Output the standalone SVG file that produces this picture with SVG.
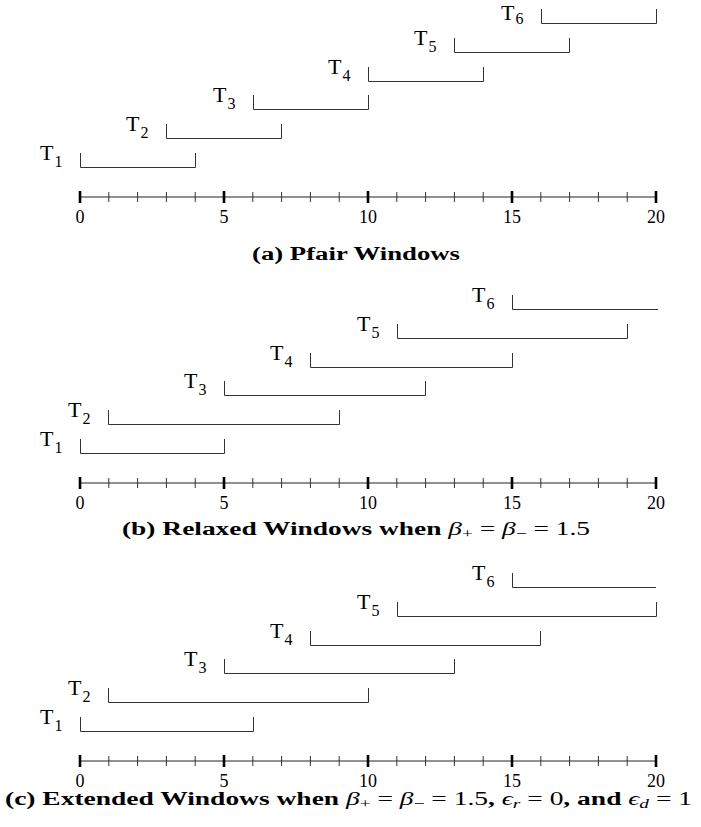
<svg xmlns="http://www.w3.org/2000/svg" width="701" height="827" viewBox="0 0 701 827">
  <style>
    .win { fill: none; stroke: #333; stroke-width: 1; }
    .axis { stroke: #222; stroke-width: 1; }
    .major { stroke: #000; stroke-width: 2.6; }
    .minor { stroke: #333; stroke-width: 1; }
    .lbl { font-family: "Liberation Serif", "Times New Roman", serif; font-size: 22px; fill: #000; }
    .sub { font-size: 16px; }
    .num { font-family: "Liberation Serif", "Times New Roman", serif; font-size: 18px; fill: #000; text-anchor: middle; }
    .cap { font-family: "Liberation Serif", "Times New Roman", serif; font-size: 18.5px; font-weight: bold; fill: #000; }
    .m { font-weight: normal; }
    .mi { font-weight: normal; font-style: italic; }
    .ms { font-weight: normal; font-size: 13px; }
  </style>
  <defs>
    <!-- time axis 0..20, one unit = 28.8px, origin at x=80 -->
    <g id="timeline">
      <line class="axis" x1="80" y1="0" x2="656" y2="0"/>
      <line class="major" x1="80" y1="-6" x2="80" y2="6"/>
      <line class="minor" x1="108.8" y1="-5" x2="108.8" y2="5"/>
      <line class="minor" x1="137.6" y1="-5" x2="137.6" y2="5"/>
      <line class="minor" x1="166.4" y1="-5" x2="166.4" y2="5"/>
      <line class="minor" x1="195.2" y1="-5" x2="195.2" y2="5"/>
      <line class="major" x1="224" y1="-6" x2="224" y2="6"/>
      <line class="minor" x1="252.8" y1="-5" x2="252.8" y2="5"/>
      <line class="minor" x1="281.6" y1="-5" x2="281.6" y2="5"/>
      <line class="minor" x1="310.4" y1="-5" x2="310.4" y2="5"/>
      <line class="minor" x1="339.2" y1="-5" x2="339.2" y2="5"/>
      <line class="major" x1="368" y1="-6" x2="368" y2="6"/>
      <line class="minor" x1="396.8" y1="-5" x2="396.8" y2="5"/>
      <line class="minor" x1="425.6" y1="-5" x2="425.6" y2="5"/>
      <line class="minor" x1="454.4" y1="-5" x2="454.4" y2="5"/>
      <line class="minor" x1="483.2" y1="-5" x2="483.2" y2="5"/>
      <line class="major" x1="512" y1="-6" x2="512" y2="6"/>
      <line class="minor" x1="540.8" y1="-5" x2="540.8" y2="5"/>
      <line class="minor" x1="569.6" y1="-5" x2="569.6" y2="5"/>
      <line class="minor" x1="598.4" y1="-5" x2="598.4" y2="5"/>
      <line class="minor" x1="627.2" y1="-5" x2="627.2" y2="5"/>
      <line class="major" x1="656" y1="-6" x2="656" y2="6"/>
      <text class="num" x="80" y="26">0</text>
      <text class="num" x="224" y="26">5</text>
      <text class="num" x="368" y="26">10</text>
      <text class="num" x="512" y="26">15</text>
      <text class="num" x="656" y="26">20</text>
    </g>
  </defs>

  <!-- (a) Pfair windows -->
  <g id="panel-a">
    <g id="a-axis"><use href="#timeline" transform="translate(0,197)"/></g>
    <g id="a-T1"><path class="win" d="M80.5,153 V167.5 H195.5 V153"/><text class="lbl" x="40" y="160">T<tspan class="sub" dx="1" dy="7">1</tspan></text></g>
    <g id="a-T2"><path class="win" d="M166.5,124 V138.5 H281.5 V124"/><text class="lbl" x="126" y="131">T<tspan class="sub" dx="1" dy="7">2</tspan></text></g>
    <g id="a-T3"><path class="win" d="M253.5,95 V109.5 H368.5 V95"/><text class="lbl" x="213" y="102">T<tspan class="sub" dx="1" dy="7">3</tspan></text></g>
    <g id="a-T4"><path class="win" d="M368.5,67 V81.5 H483.5 V67"/><text class="lbl" x="328" y="74">T<tspan class="sub" dx="1" dy="7">4</tspan></text></g>
    <g id="a-T5"><path class="win" d="M454.5,38 V52.5 H569.5 V38"/><text class="lbl" x="414" y="45">T<tspan class="sub" dx="1" dy="7">5</tspan></text></g>
    <g id="a-T6"><path class="win" d="M541.5,9 V23.5 H656.5 V9"/><text class="lbl" x="501" y="20">T<tspan class="sub" dx="1" dy="4">6</tspan></text></g>
    <text id="a-caption" class="cap" x="252" y="260" textLength="208" lengthAdjust="spacingAndGlyphs">(a) Pfair Windows</text>
  </g>

  <!-- (b) relaxed windows -->
  <g id="panel-b">
    <g id="b-axis"><use href="#timeline" transform="translate(0,483)"/></g>
    <g id="b-T1"><path class="win" d="M80.5,439 V453.5 H224.5 V439"/><text class="lbl" x="40" y="446">T<tspan class="sub" dx="1" dy="7">1</tspan></text></g>
    <g id="b-T2"><path class="win" d="M108.5,410 V424.5 H339.5 V410"/><text class="lbl" x="68" y="417">T<tspan class="sub" dx="1" dy="7">2</tspan></text></g>
    <g id="b-T3"><path class="win" d="M224.5,381 V395.5 H425.5 V381"/><text class="lbl" x="184" y="388">T<tspan class="sub" dx="1" dy="7">3</tspan></text></g>
    <g id="b-T4"><path class="win" d="M310.5,353 V367.5 H512.5 V353"/><text class="lbl" x="270" y="360">T<tspan class="sub" dx="1" dy="7">4</tspan></text></g>
    <g id="b-T5"><path class="win" d="M397.5,324 V338.5 H627.5 V324"/><text class="lbl" x="357" y="331">T<tspan class="sub" dx="1" dy="7">5</tspan></text></g>
    <g id="b-T6"><path class="win" d="M512.5,295 V309.5 H658"/><text class="lbl" x="472" y="302">T<tspan class="sub" dx="1" dy="7">6</tspan></text></g>
    <text id="b-caption" class="cap" x="122" y="535" textLength="468" lengthAdjust="spacingAndGlyphs">(b) Relaxed Windows when <tspan class="mi">β</tspan><tspan class="ms" dy="3">+</tspan><tspan class="m" dy="-3"> = </tspan><tspan class="mi">β</tspan><tspan class="ms" dy="3">−</tspan><tspan class="m" dy="-3"> = 1.5</tspan></text>
  </g>

  <!-- (c) extended windows -->
  <g id="panel-c">
    <g id="c-axis"><use href="#timeline" transform="translate(0,761)"/></g>
    <g id="c-T1"><path class="win" d="M80.5,717 V731.5 H253.5 V717"/><text class="lbl" x="40" y="724">T<tspan class="sub" dx="1" dy="7">1</tspan></text></g>
    <g id="c-T2"><path class="win" d="M108.5,688 V702.5 H368.5 V688"/><text class="lbl" x="68" y="695">T<tspan class="sub" dx="1" dy="7">2</tspan></text></g>
    <g id="c-T3"><path class="win" d="M224.5,659 V673.5 H454.5 V659"/><text class="lbl" x="184" y="666">T<tspan class="sub" dx="1" dy="7">3</tspan></text></g>
    <g id="c-T4"><path class="win" d="M310.5,631 V645.5 H540.5 V631"/><text class="lbl" x="270" y="638">T<tspan class="sub" dx="1" dy="7">4</tspan></text></g>
    <g id="c-T5"><path class="win" d="M397.5,602 V616.5 H656.5 V602"/><text class="lbl" x="357" y="609">T<tspan class="sub" dx="1" dy="7">5</tspan></text></g>
    <g id="c-T6"><path class="win" d="M512.5,573 V587.5 H656"/><text class="lbl" x="472" y="580">T<tspan class="sub" dx="1" dy="7">6</tspan></text></g>
    <text id="c-caption" class="cap" x="5" y="805" textLength="687" lengthAdjust="spacingAndGlyphs">(c) Extended Windows when <tspan class="mi">β</tspan><tspan class="ms" dy="3">+</tspan><tspan class="m" dy="-3"> = </tspan><tspan class="mi">β</tspan><tspan class="ms" dy="3">−</tspan><tspan class="m" dy="-3"> = 1.5</tspan>, <tspan class="mi">ϵ</tspan><tspan class="mi" font-size="13" dy="3">r</tspan><tspan class="m" dy="-3"> = 0</tspan>, and <tspan class="mi">ϵ</tspan><tspan class="mi" font-size="13" dy="3">d</tspan><tspan class="m" dy="-3"> = 1</tspan></text>
  </g>
</svg>
